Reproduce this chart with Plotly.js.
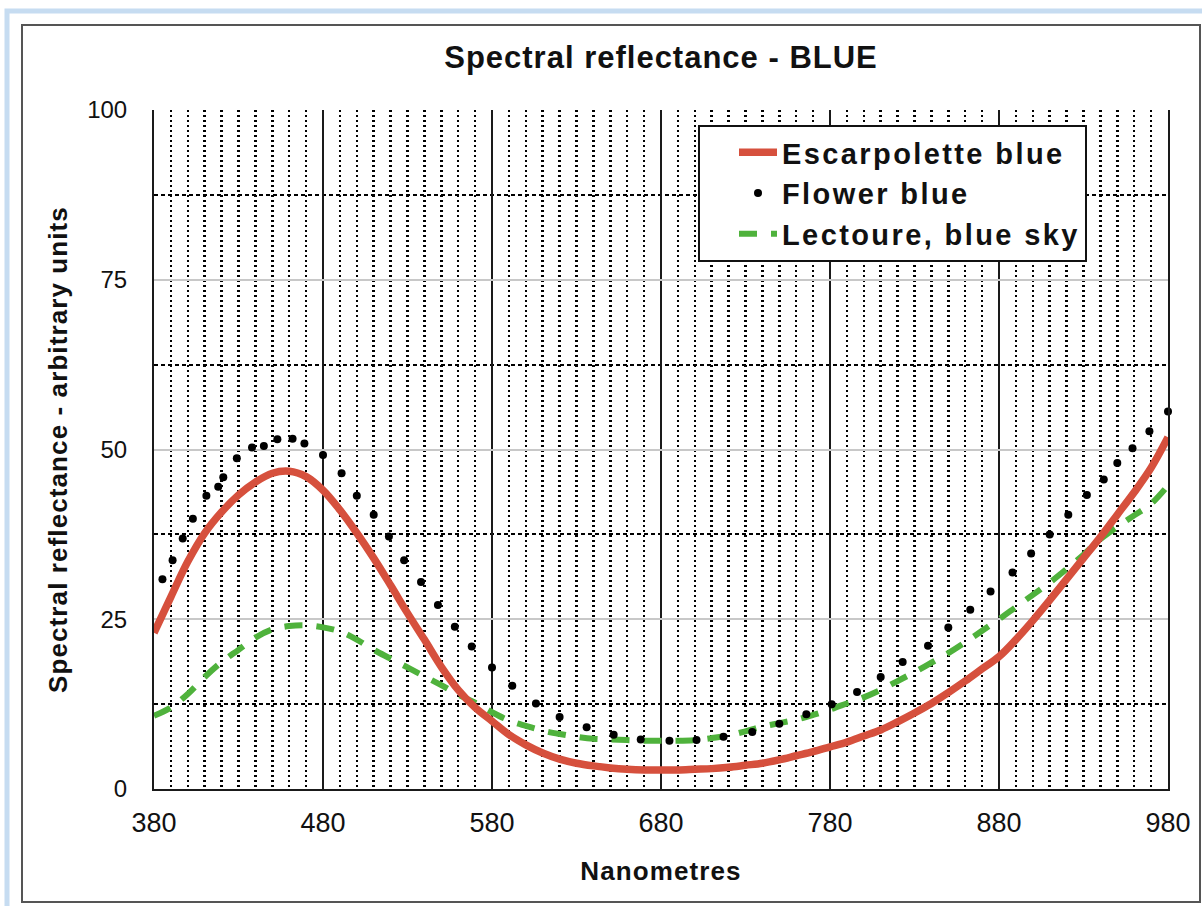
<!DOCTYPE html>
<html>
<head>
<meta charset="utf-8">
<script src="https://cdn.plot.ly/plotly-3.0.1.min.js"></script>
<style>
  html, body { margin: 0; padding: 0; background: #ffffff; }
  #chart { width: 1202px; height: 906px; }
  .legendtext { letter-spacing: 2.4px; }
  .gtitle { letter-spacing: 1px; }
  .xtitle, .ytitle { letter-spacing: 1.1px; }
</style>
</head>
<body>
<div id="chart"></div>
<script>
// ---------- Data ----------
var wavelengths = [380, 390, 400, 410, 420, 430, 440, 450, 460, 470, 480, 490, 500, 510, 520, 530, 540, 550, 560, 570,
  580, 590, 600, 610, 620, 630, 640, 650, 660, 670, 680, 690, 700, 710, 720, 730, 740, 750, 760, 770,
  780, 790, 800, 810, 820, 830, 840, 850, 860, 870, 880, 890, 900, 910, 920, 930, 940, 950, 960, 970, 980];

var escarpoletteBlue = [23.0, 28.3, 33.5, 37.7, 40.8, 43.3, 45.2, 46.5, 46.8, 46.0, 44.0, 41.1, 37.7, 34.0, 30.0, 25.9, 22.0, 18.0, 14.6, 12.0,
  10.0, 8.0, 6.5, 5.3, 4.4, 3.8, 3.4, 3.1, 2.9, 2.8, 2.8, 2.8, 2.9, 3.0, 3.2, 3.5, 3.8, 4.3, 4.9, 5.5,
  6.2, 6.9, 7.8, 8.7, 9.9, 11.2, 12.6, 14.2, 15.9, 17.7, 19.5, 22.0, 24.8, 27.8, 30.9, 34.0, 37.1, 40.4, 43.7, 47.3, 51.8];

var lectoureBlueSky = [10.8, 12.0, 14.0, 16.5, 18.7, 20.5, 22.3, 23.5, 24.0, 24.1, 23.8, 23.2, 22.0, 20.5, 19.2, 17.9, 16.6, 15.3, 13.9, 12.7,
  11.3, 10.1, 9.3, 8.6, 8.1, 7.7, 7.4, 7.3, 7.2, 7.1, 7.1, 7.1, 7.2, 7.5, 7.9, 8.5, 9.2, 9.7, 10.2, 10.9,
  11.7, 12.6, 13.5, 14.6, 15.9, 17.2, 18.6, 20.0, 21.6, 23.3, 25.0, 26.8, 28.6, 30.4, 32.4, 34.5, 36.8, 38.6, 40.3, 42.0, 44.7];

var flowerX = [385, 391, 397, 403, 411, 418, 421, 429, 438, 445, 453, 462, 469, 480, 491, 500, 510, 519, 528, 538,
  548, 558, 568, 580, 592, 606, 620, 636, 652, 668, 685, 701, 717, 734, 750, 766, 781, 796, 810, 823,
  838, 850, 863, 875, 888, 899, 910, 921, 932, 942, 950, 959, 969, 980];
var flowerBlue = [30.9, 33.7, 36.9, 39.8, 43.2, 44.5, 45.9, 48.7, 50.3, 50.5, 51.5, 51.6, 50.9, 49.2, 46.5, 43.2, 40.4, 37.2, 33.7, 30.5,
  27.1, 23.9, 21.0, 17.9, 15.2, 12.6, 10.6, 9.1, 8.0, 7.3, 7.1, 7.2, 7.7, 8.4, 9.6, 11.0, 12.5, 14.3, 16.5, 18.7,
  21.1, 23.8, 26.4, 29.1, 31.9, 34.7, 37.5, 40.4, 43.3, 45.6, 48.0, 50.2, 52.7, 55.6];

var seriesNames = ["Escarpolette blue", "Flower blue", "Lectoure, blue sky"];
var xTickVals = [380, 480, 580, 680, 780, 880, 980];
var yTickVals = [0, 25, 50, 75, 100];

// ---------- Layout helpers (decorative frame) ----------
var W = 1202, H = 906;
var M = { l: 154, r: 34, t: 110, b: 117 };
function px(x) { return (x - M.l) / (W - M.l - M.r); }
function py(y) { return (H - M.b - y) / (H - M.t - M.b); }

var FONT = '"Liberation Sans", Arial, Helvetica, sans-serif';

var traces = [
  {
    x: wavelengths, y: lectoureBlueSky, name: seriesNames[2], type: 'scatter', mode: 'lines',
    line: { color: '#4fb23c', width: 6, dash: '18px,14px', shape: 'spline' },
    legendrank: 3, hoverinfo: 'skip'
  },
  {
    x: wavelengths, y: escarpoletteBlue, name: seriesNames[0], type: 'scatter', mode: 'lines',
    line: { color: '#d6503d', width: 7.5, shape: 'spline' },
    legendrank: 1, hoverinfo: 'skip'
  },
  {
    x: flowerX, y: flowerBlue, name: seriesNames[1], type: 'scatter', mode: 'markers',
    marker: { color: '#000000', size: 8 },
    legendrank: 2, cliponaxis: false, hoverinfo: 'skip'
  }
];

var layout = {
  width: W, height: H,
  margin: M,
  paper_bgcolor: '#ffffff',
  plot_bgcolor: '#ffffff',
  font: { family: FONT, color: '#111111' },
  showlegend: true,
  title: {
    text: '<b>Spectral reflectance - BLUE</b>',
    font: { family: FONT, size: 31, color: '#111111' },
    xref: 'paper', x: 0.5, xanchor: 'center',
    yref: 'container', y: 1 - 57 / H, yanchor: 'middle'
  },
  xaxis: {
    range: [380, 980],
    tickvals: xTickVals,
    ticktext: xTickVals.map(String),
    ticks: '', ticklabelstandoff: 9,
    tickfont: { family: FONT, size: 27, color: '#111111' },
    showgrid: true, gridcolor: '#1a1a1a', gridwidth: 2,
    showline: true, linecolor: '#1a1a1a', linewidth: 2, mirror: false,
    zeroline: false,
    minor: { dtick: 10, tick0: 380, showgrid: true, gridcolor: '#000000', gridwidth: 2.5, griddash: '2px,3px', ticks: '' },
    title: { text: '<b>Nanometres</b>', font: { family: FONT, size: 26, color: '#111111' }, standoff: 24 }
  },
  yaxis: {
    range: [0, 100],
    tickvals: yTickVals,
    ticktext: yTickVals.map(String),
    ticks: '', ticklabelstandoff: 20,
    tickfont: { family: FONT, size: 24, color: '#111111' },
    showgrid: true, gridcolor: '#c8c8c8', gridwidth: 2,
    showline: true, linecolor: '#1a1a1a', linewidth: 2, mirror: true,
    zeroline: false,
    minor: { dtick: 12.5, tick0: 0, showgrid: true, gridcolor: '#000000', gridwidth: 2, griddash: '4px,3px', ticks: '' },
    title: { text: '<b>Spectral reflectance - arbitrary units</b>', font: { family: FONT, size: 26, color: '#111111' }, standoff: 12 }
  },
  legend: {
    x: px(698), y: py(125), xanchor: 'left', yanchor: 'top',
    bgcolor: '#ffffff', bordercolor: '#111111', borderwidth: 2,
    font: { family: FONT, size: 29, color: '#111111', weight: 'bold' },
    itemwidth: 38, indentation: 34, tracegroupgap: 0
  },
  shapes: [
    { type: 'rect', xref: 'paper', yref: 'paper', x0: px(7), x1: px(1216), y0: py(11), y1: py(925),
      line: { color: '#c6dcf1', width: 5 }, fillcolor: 'rgba(0,0,0,0)', layer: 'below' },
    { type: 'rect', xref: 'paper', yref: 'paper', x0: px(22), x1: px(1200), y0: py(25), y1: py(902),
      line: { color: '#555555', width: 2 }, fillcolor: 'rgba(0,0,0,0)', layer: 'below' }
  ]
};

Plotly.newPlot('chart', traces, layout, { displayModeBar: false, staticPlot: true });
</script>
</body>
</html>
